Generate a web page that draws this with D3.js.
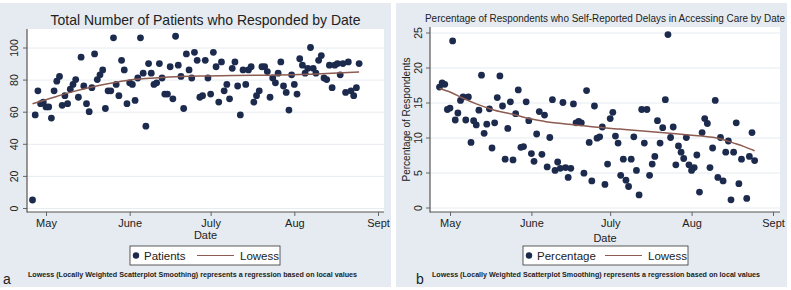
<!DOCTYPE html>
<html>
<head>
<meta charset="utf-8">
<title>Patients and delays by date</title>
<script src="https://cdn.jsdelivr.net/npm/d3@7"></script>
<style>
  body { margin: 0; background: #ffffff; }
  text { font-family: "Liberation Sans", Arial, sans-serif; fill: #222; }
</style>
</head>
<body>
<svg width="791" height="290" id="mainsvg"></svg>
<script>
// ---- data (days counted from 1 May 2020) ----
const monthTicks = ['2020-05-01', '2020-06-01', '2020-07-01', '2020-08-01', '2020-09-01'];
const monthLabels = ['May', 'June', 'July', 'Aug', 'Sept'];

// panel a: patients who responded
const patientDays = [-5, -4, -3, -2, -1, 0, 1, 2, 3, 4, 5, 6, 7, 8, 9, 10, 11, 12, 13, 14, 15, 16, 17, 18, 19,
  20, 21, 22, 23, 24, 25, 26, 27, 28, 29, 30, 31, 32, 33, 34, 35, 36, 37, 38, 39, 40, 41, 42, 43, 44, 45,
  46, 47, 48, 49, 50, 51, 52, 53, 54, 55, 56, 57, 58, 59, 60, 61, 62, 63, 64, 65, 66, 67, 68, 69, 70, 71,
  72, 73, 74, 75, 76, 77, 78, 79, 80, 81, 82, 83, 84, 85, 86, 87, 88, 89, 90, 91, 92, 93, 94, 95, 96, 97,
  98, 99, 100, 101, 102, 103, 104, 105, 106, 107, 108, 109, 110, 111, 112, 113, 114, 115, 116];
const patientCounts = [5, 58, 73, 65, 66, 63, 63, 56, 73, 79, 82, 64, 70, 65, 74, 77, 80, 69, 94, 76, 65, 60, 75, 96, 80,
  83, 86, 62, 73, 73, 106, 77, 70, 92, 86, 65, 78, 77, 67, 81, 106, 84, 51, 90, 84, 77, 78, 90, 81, 71, 71,
  88, 68, 107, 89, 82, 62, 96, 86, 81, 97, 92, 69, 70, 92, 81, 71, 97, 88, 66, 91, 73, 77, 68, 87, 91, 76,
  58, 86, 77, 86, 88, 66, 70, 73, 88, 88, 85, 69, 81, 78, 84, 91, 76, 72, 61, 83, 77, 71, 93, 89, 84, 87,
  100, 87, 84, 92, 95, 81, 80, 89, 75, 89, 90, 83, 90, 72, 91, 73, 70, 75, 90];
const patientLowessDays = [-5, 0, 10, 20, 30, 40, 50, 60, 80, 100, 116];
const patientLowess = [65, 67.5, 72.5, 76.5, 79.5, 81, 82, 82.3, 82.7, 83.5, 84.7];
const patientTicks = [0, 20, 40, 60, 80, 100];

// panel b: percentage reporting delays
const delayDays = [-4, -3, -2, -1, 0, 1, 2, 3, 4, 5, 6, 7, 8, 9, 10, 11, 12, 13, 14, 15, 16, 17, 18, 19,
  20, 21, 22, 23, 24, 25, 26, 27, 28, 29, 30, 31, 32, 33, 34, 35, 36, 37, 38, 39, 40, 41, 42, 43, 44, 45,
  46, 47, 48, 49, 50, 51, 52, 53, 54, 55, 56, 57, 58, 59, 60, 61, 62, 63, 64, 65, 66, 67, 68, 69, 70, 71,
  72, 73, 74, 75, 76, 77, 78, 79, 80, 81, 82, 83, 84, 85, 86, 87, 88, 89, 90, 91, 92, 93, 94, 95, 96, 97,
  98, 99, 100, 101, 102, 103, 104, 105, 106, 107, 108, 109, 110, 111, 113, 114, 115, 116];
const delayPct = [17.2, 17.8, 17.6, 14.0, 14.2, 23.8, 12.5, 13.5, 15.3, 15.8, 12.5, 15.8, 9.3, 12.4, 11.8, 13.9, 18.9, 10.6, 11.9, 14.1, 8.5, 12.1, 15.7, 18.8,
  14.5, 6.9, 11.3, 15.1, 6.8, 13.4, 16.8, 8.6, 8.7, 15.1, 12.4, 7.7, 6.6, 10.5, 13.7, 7.6, 13.2, 5.8, 10.0, 15.4, 5.3, 6.5, 5.6, 15.0, 5.7, 4.3,
  5.6, 14.8, 12.1, 12.3, 12.1, 4.9, 16.7, 9.3, 3.8, 14.5, 9.9, 10.1, 11.5, 3.3, 6.2, 12.7, 13.6, 10.2, 9.2, 4.6, 6.9, 3.9, 3.0, 6.9, 10.1, 5.3,
  1.8, 14.0, 9.2, 14.0, 4.6, 6.2, 7.3, 12.4, 9.2, 11.4, 15.4, 24.7, 10.0, 11.5, 6.1, 8.8, 7.9, 7.0, 10.0, 6.1, 5.3, 5.7, 7.5, 2.2, 10.7, 12.7,
  12.0, 5.7, 8.5, 15.3, 4.3, 10.0, 3.8, 7.9, 9.5, 1.1, 7.9, 12.1, 3.4, 6.9, 1.3, 7.3, 10.7, 6.7];
const delayLowessDays = [-4, 0, 5, 10, 17, 25, 30, 36, 45, 55, 65, 78, 90, 96, 102, 108, 112, 116];
const delayLowess = [17.0, 16.5, 15.6, 14.8, 13.9, 13.2, 12.7, 12.3, 11.9, 11.5, 11.2, 10.8, 10.4, 10.2, 9.9, 9.2, 8.7, 8.1];
const delayTicks = [0, 5, 10, 15, 20, 25];

const footnote = 'Lowess (Locally Weighted Scatterplot Smoothing) represents a regression based on local values';

// ---- drawing ----
const svg = d3.select('#mainsvg');
const parse = d3.timeParse('%Y-%m-%d');
const may1 = parse('2020-05-01');
const toDate = d => d3.timeDay.offset(may1, d);
const dotColor = '#1c2a4d';
const lowessColor = '#8c5c52';

function drawPanel(p) {
  const g = svg.append('g');

  // gray panel background and white plot region
  g.append('rect').attr('x', p.bg[0]).attr('y', p.bg[1])
    .attr('width', p.bg[2] - p.bg[0]).attr('height', p.bg[3] - p.bg[1]).attr('fill', '#e5ebf0');
  g.append('rect').attr('x', p.left).attr('y', p.top)
    .attr('width', p.right - p.left).attr('height', p.bottom - p.top).attr('fill', '#ffffff');

  const x = d3.scaleTime()
    .domain([parse(monthTicks[0]), parse(monthTicks[monthTicks.length - 1])])
    .range(p.xRange);
  const y = d3.scaleLinear().domain(p.yDomain).range(p.yRange);

  // grid
  const grid = g.append('g').attr('transform', `translate(${p.left},0)`)
    .call(d3.axisLeft(y).tickValues(p.ticks).tickSize(-(p.right - p.left)).tickFormat(''));
  grid.select('.domain').remove();
  grid.selectAll('line').attr('stroke', '#e6ecf0');

  // y axis, labels turned upright like the original
  const yAxis = g.append('g').attr('transform', `translate(${p.left},0)`)
    .call(d3.axisLeft(y).tickValues(p.ticks).tickSize(4).tickSizeOuter(0));
  yAxis.select('.domain').remove();
  yAxis.selectAll('line').attr('stroke', '#666');
  yAxis.selectAll('text')
    .attr('x', 0).attr('y', 0).attr('dy', 0)
    .attr('text-anchor', 'middle')
    .attr('transform', `translate(${-p.yLabelOffset},0) rotate(-90)`)
    .style('font-size', '10.5px').style('font-family', '"Liberation Sans", Arial, sans-serif').attr('fill', '#222');

  // x axis
  const xAxis = g.append('g').attr('transform', `translate(0,${p.bottom})`)
    .call(d3.axisBottom(x).tickValues(monthTicks.map(parse)).tickSize(4).tickSizeOuter(0)
      .tickFormat((d, i) => monthLabels[i]));
  xAxis.select('.domain').remove();
  xAxis.selectAll('line').attr('stroke', '#666');
  xAxis.selectAll('text').attr('y', 15).attr('dy', 0)
    .style('font-size', '11px').style('font-family', '"Liberation Sans", Arial, sans-serif').attr('fill', '#222');

  // axis lines along the plot region edges
  g.append('line').attr('x1', p.left).attr('x2', p.left).attr('y1', p.top).attr('y2', p.bottom + 0.5)
    .attr('stroke', '#555').attr('stroke-width', 1.2);
  g.append('line').attr('x1', p.left).attr('x2', p.right).attr('y1', p.bottom).attr('y2', p.bottom)
    .attr('stroke', '#555').attr('stroke-width', 1.2);

  // points
  g.append('g').selectAll('circle')
    .data(p.days.map((d, i) => ({ date: toDate(d), v: p.values[i] })))
    .enter().append('circle')
    .attr('cx', d => x(d.date))
    .attr('cy', d => y(d.v))
    .attr('r', 3.4)
    .attr('fill', dotColor);

  // lowess line
  const line = d3.line().x(d => x(d.date)).y(d => y(d.v)).curve(d3.curveMonotoneX);
  g.append('path')
    .datum(p.lowDays.map((d, i) => ({ date: toDate(d), v: p.lowValues[i] })))
    .attr('d', line).attr('fill', 'none')
    .attr('stroke', lowessColor).attr('stroke-width', 1.5);

  // title
  g.append('text').attr('x', (p.left + p.right) / 2).attr('y', p.titleY)
    .attr('text-anchor', 'middle').style('font-size', p.titleSize + 'px')
    .attr('textLength', p.titleLen).attr('lengthAdjust', 'spacingAndGlyphs')
    .text(p.title);

  // y axis title
  if (p.yTitle) {
    g.append('text')
      .attr('transform', `translate(${p.yTitleX},${(p.top + p.bottom) / 2}) rotate(-90)`)
      .attr('text-anchor', 'middle').style('font-size', '10px')
      .text(p.yTitle);
  }

  // x axis title
  g.append('text').attr('x', (p.left + p.right) / 2).attr('y', p.dateY)
    .attr('text-anchor', 'middle').style('font-size', '11px').text('Date');

  // legend
  const lb = p.legend;
  g.append('rect').attr('x', lb.x).attr('y', 246).attr('width', lb.w).attr('height', 19)
    .attr('fill', '#ffffff').attr('stroke', '#333').attr('stroke-width', 0.8);
  g.append('circle').attr('cx', lb.x + 6).attr('cy', 255.5).attr('r', 3.2).attr('fill', dotColor);
  g.append('text').attr('x', lb.x + 14).attr('y', 260).style('font-size', '11.5px').text(p.legendLabel);
  g.append('line').attr('x1', lb.lineX).attr('x2', lb.lineX + 37).attr('y1', 255.5).attr('y2', 255.5)
    .attr('stroke', lowessColor).attr('stroke-width', 1.2);
  g.append('text').attr('x', lb.lineX + 43).attr('y', 260).style('font-size', '11.5px').text('Lowess');

  // footnote and panel letter
  g.append('text').attr('x', p.noteX).attr('y', 277).style('font-size', '7.5px')
    .style('font-weight', 'bold').attr('fill', '#333')
    .attr('textLength', p.noteLen).attr('lengthAdjust', 'spacingAndGlyphs')
    .text(footnote);
  g.append('text').attr('x', p.letterX).attr('y', 284).style('font-size', '14px').text(p.letter);
}

drawPanel({
  bg: [0, 3, 391, 287],
  left: 27, right: 384, top: 29, bottom: 212,
  xRange: [46, 378], yDomain: [0, 100], yRange: [208, 47.5],
  ticks: patientTicks, yLabelOffset: 9.5,
  days: patientDays, values: patientCounts,
  lowDays: patientLowessDays, lowValues: patientLowess,
  title: 'Total Number of Patients who Responded by Date', titleSize: 14.5, titleY: 25, titleLen: 310,
  dateY: 239,
  legendLabel: 'Patients', legend: { x: 130, w: 150, lineX: 197 },
  noteX: 28, noteLen: 329, letterX: 3, letter: 'a'
});

drawPanel({
  bg: [396, 3, 787, 287],
  left: 430, right: 780, top: 27, bottom: 212,
  xRange: [450, 773], yDomain: [0, 25], yRange: [207.5, 32.5],
  ticks: delayTicks, yLabelOffset: 8,
  days: delayDays, values: delayPct,
  lowDays: delayLowessDays, lowValues: delayLowess,
  title: 'Percentage of Respondents who Self-Reported Delays in Accessing Care by Date', titleSize: 10, titleY: 21.5, titleLen: 360,
  yTitle: 'Percentage of Respondents', yTitleX: 409.5,
  dateY: 242,
  legendLabel: 'Percentage', legend: { x: 523, w: 165, lineX: 605 },
  noteX: 432, noteLen: 328, letterX: 416, letter: 'b'
});
</script>
</body>
</html>
